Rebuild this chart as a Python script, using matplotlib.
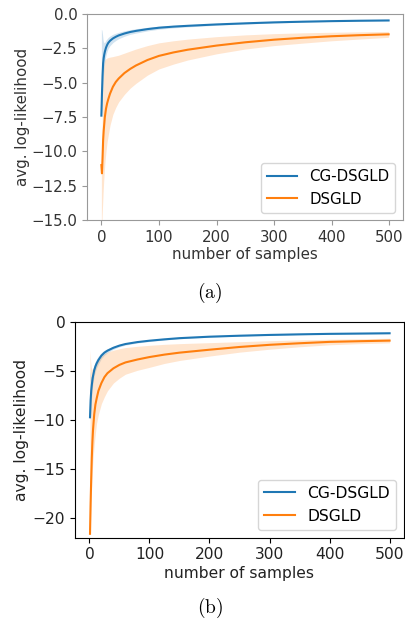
import matplotlib
matplotlib.use("Agg")
import matplotlib.pyplot as plt

plt.rcParams["mathtext.fontset"] = "cm"

# ---- (a) ----
xa = [0, 1, 2, 3, 4, 5, 6, 8, 10, 12, 15, 20, 25, 30, 40, 50, 60, 80, 100,
      125, 150, 200, 250, 300, 350, 400, 450, 499]
cg_a = [-7.4, -5.8, -4.5, -3.6, -3.2, -2.95, -2.75, -2.45, -2.25, -2.1, -1.95,
        -1.78, -1.66, -1.56, -1.42, -1.31, -1.23, -1.1, -1.0, -0.92, -0.86,
        -0.76, -0.68, -0.61, -0.56, -0.52, -0.49, -0.47]
cg_a_hi = [-1.1, -1.2, -1.5, -1.9, -2.05, -2.1, -2.05, -1.9, -1.8, -1.7, -1.6,
           -1.48, -1.4, -1.33, -1.22, -1.14, -1.07, -0.97, -0.89, -0.83, -0.78,
           -0.7, -0.63, -0.57, -0.53, -0.5, -0.47, -0.45]
cg_a_lo = [-7.4, -7.0, -6.0, -5.0, -4.3, -3.8, -3.45, -3.0, -2.7, -2.5, -2.3,
           -2.08, -1.93, -1.8, -1.62, -1.48, -1.39, -1.23, -1.11, -1.01, -0.94,
           -0.82, -0.73, -0.65, -0.59, -0.54, -0.51, -0.49]
ds_a = [-11.0, -11.6, -10.5, -9.2, -8.5, -8.0, -7.5, -6.9, -6.5, -6.2, -5.8,
        -5.3, -4.95, -4.7, -4.3, -4.0, -3.75, -3.35, -3.05, -2.8, -2.6, -2.3,
        -2.06, -1.87, -1.73, -1.62, -1.54, -1.48]
ds_a_hi = [-10.5, -9.0, -6.5, -4.6, -3.9, -3.5, -3.35, -3.25, -3.2, -3.17,
           -3.14, -3.1, -3.05, -3.0, -2.85, -2.7, -2.55, -2.3, -2.1, -1.95,
           -1.83, -1.65, -1.52, -1.43, -1.37, -1.33, -1.3, -1.27]
ds_a_lo = [-15.0, -15.0, -14.0, -13.0, -12.2, -11.5, -10.9, -10.0, -9.3, -8.8,
           -8.1, -7.3, -6.8, -6.4, -5.85, -5.4, -5.05, -4.45, -4.0, -3.65,
           -3.35, -2.9, -2.55, -2.3, -2.12, -1.95, -1.82, -1.7]

# ---- (b) ----
xb = [1, 2, 3, 4, 5, 6, 8, 10, 12, 15, 20, 25, 30, 40, 50, 60, 80, 100, 125,
      150, 200, 250, 300, 350, 400, 450, 500]
cg_b = [-9.7, -8.0, -7.0, -6.4, -5.9, -5.5, -4.9, -4.5, -4.2, -3.85, -3.4,
        -3.1, -2.9, -2.6, -2.38, -2.22, -2.02, -1.88, -1.74, -1.62, -1.47,
        -1.37, -1.29, -1.23, -1.18, -1.15, -1.12]
cg_b_hi = [-5.0, -5.5, -5.6, -5.4, -5.1, -4.8, -4.35, -4.0, -3.75, -3.45, -3.1,
           -2.85, -2.7, -2.45, -2.25, -2.1, -1.92, -1.8, -1.67, -1.56, -1.42,
           -1.33, -1.25, -1.2, -1.15, -1.12, -1.09]
cg_b_lo = [-10.0, -9.5, -8.5, -7.4, -6.7, -6.2, -5.45, -5.0, -4.65, -4.25,
           -3.7, -3.35, -3.1, -2.75, -2.5, -2.33, -2.11, -1.96, -1.81, -1.68,
           -1.52, -1.41, -1.33, -1.26, -1.21, -1.18, -1.15]
ds_b = [-21.6, -18.5, -16.0, -13.8, -12.2, -11.0, -9.4, -8.4, -7.8, -7.0,
        -6.2, -5.6, -5.2, -4.7, -4.35, -4.1, -3.8, -3.55, -3.3, -3.1, -2.8,
        -2.52, -2.3, -2.14, -2.0, -1.93, -1.87]
ds_b_hi = [-2.8, -4.0, -4.6, -4.8, -4.8, -4.7, -4.5, -4.25, -4.05, -3.8, -3.45,
           -3.2, -3.05, -2.85, -2.7, -2.58, -2.45, -2.35, -2.25, -2.18, -2.08,
           -1.98, -1.88, -1.8, -1.73, -1.68, -1.63]
ds_b_lo = [-21.8, -20.0, -18.0, -16.5, -15.0, -14.0, -12.5, -11.3, -10.3,
           -9.4, -8.3, -7.6, -7.0, -6.2, -5.7, -5.3, -4.9, -4.6, -4.2, -3.9,
           -3.45, -3.05, -2.75, -2.5, -2.3, -2.18, -2.1]

BLUE, ORANGE = "#1f77b4", "#ff7f0e"
FS_A = 10.8
FS_B = 11.2

fig = plt.figure(figsize=(4.06, 6.26), dpi=100)

# top panel (lighter frame)
ax1 = fig.add_axes([87 / 406, 1 - 220 / 626, 316 / 406, 206 / 626])
ax1.fill_between(xa, cg_a_lo, cg_a_hi, color=BLUE, alpha=0.2, lw=0)
ax1.fill_between(xa, ds_a_lo, ds_a_hi, color=ORANGE, alpha=0.2, lw=0)
ax1.plot(xa, cg_a, color=BLUE, lw=1.5, label="CG-DSGLD")
ax1.plot(xa, ds_a, color=ORANGE, lw=1.5, label="DSGLD")
ax1.set_ylim(-15, 0)
ax1.set_xlim(-25, 524)
ax1.set_xticks([0, 100, 200, 300, 400, 500])
ax1.set_yticks([0, -2.5, -5, -7.5, -10, -12.5, -15])
ax1.set_xlabel("number of samples", fontsize=FS_A, color="#333333")
ax1.set_ylabel("avg. log-likelihood", fontsize=FS_A, color="#333333")
ax1.xaxis.set_label_coords(0.5, -0.13)
ax1.yaxis.set_label_coords(-0.18, 0.5)
ax1.tick_params(labelsize=FS_A, labelcolor="#333333", color="#999999")
for sp in ax1.spines.values():
    sp.set_color("#999999")
ax1.legend(loc="lower right", fontsize=FS_A)

# bottom panel
ax2 = fig.add_axes([75 / 406, 1 - 537.7 / 626, 329 / 406, 215.4 / 626])
ax2.fill_between(xb, cg_b_lo, cg_b_hi, color=BLUE, alpha=0.2, lw=0)
ax2.fill_between(xb, ds_b_lo, ds_b_hi, color=ORANGE, alpha=0.2, lw=0)
ax2.plot(xb, cg_b, color=BLUE, lw=1.5, label="CG-DSGLD")
ax2.plot(xb, ds_b, color=ORANGE, lw=1.5, label="DSGLD")
ax2.set_ylim(-22, 0)
ax2.set_xlim(-24, 524)
ax2.set_xticks([0, 100, 200, 300, 400, 500])
ax2.set_yticks([0, -5, -10, -15, -20])
ax2.set_xlabel("number of samples", fontsize=FS_B, color="#222222")
ax2.set_ylabel("avg. log-likelihood", fontsize=FS_B, color="#222222")
ax2.xaxis.set_label_coords(0.5, -0.13)
ax2.yaxis.set_label_coords(-0.14, 0.5)
ax2.tick_params(labelsize=FS_B, labelcolor="#222222")
ax2.legend(loc="lower right", fontsize=FS_B)

fig.text(210 / 406, 1 - 293 / 626, r"$\mathrm{(a)}$", ha="center", va="center", fontsize=14)
fig.text(210 / 406, 1 - 608 / 626, r"$\mathrm{(b)}$", ha="center", va="center", fontsize=14)

fig.savefig("out.png", dpi=100)
